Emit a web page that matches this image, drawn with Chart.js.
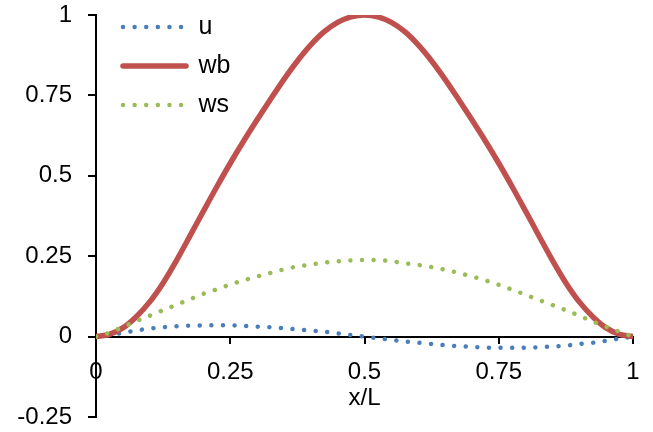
<!DOCTYPE html>
<html><head><meta charset="utf-8">
<script src="https://cdn.jsdelivr.net/npm/chart.js@4/dist/chart.umd.min.js"></script>
<style>html,body{margin:0;padding:0;background:#fff}#wrap{position:relative;width:653px;height:432px}</style>
</head><body><div id="wrap"><canvas id="c"></canvas></div>
<script>
const seriesNames = ['u', 'wb', 'ws'];
const xValues = [0,0.025,0.05,0.075,0.1,0.125,0.15,0.175,0.2,0.225,0.25,0.275,0.3,0.325,0.35,0.375,0.4,0.425,0.45,0.475,0.5,
  0.525,0.55,0.575,0.6,0.625,0.65,0.675,0.7,0.725,0.75,0.775,0.8,0.825,0.85,0.875,0.9,0.925,0.95,0.975,1];
const uValues = [0,0.004,0.012,0.019,0.025,0.029,0.032,0.034,0.035,0.035,0.035,0.033,0.031,0.029,0.026,0.022,0.019,0.015,0.010,0.005,0,
  -0.005,-0.010,-0.015,-0.019,-0.023,-0.027,-0.030,-0.032,-0.034,-0.035,-0.035,-0.035,-0.033,-0.031,-0.028,-0.023,-0.019,-0.013,-0.006,0];
const wbValues = [0,0.007,0.027,0.062,0.108,0.167,0.237,0.313,0.390,0.466,0.539,0.608,0.674,0.738,0.800,0.857,0.907,0.948,0.977,0.994,1,
  0.994,0.977,0.948,0.907,0.857,0.800,0.738,0.674,0.608,0.539,0.466,0.390,0.313,0.237,0.167,0.108,0.062,0.027,0.007,0];
const wsValues = [0,0.012,0.030,0.048,0.065,0.082,0.099,0.116,0.133,0.147,0.162,0.175,0.187,0.198,0.209,0.218,0.224,0.230,0.234,0.237,0.238,
  0.238,0.234,0.228,0.223,0.216,0.208,0.198,0.187,0.175,0.161,0.146,0.130,0.114,0.098,0.082,0.065,0.047,0.031,0.015,0];
const xTicks = [0, 0.25, 0.5, 0.75, 1];
const xTickLabels = ['0', '0.25', '0.5', '0.75', '1'];
const yTicks = [-0.25, 0, 0.25, 0.5, 0.75, 1];
const yTickLabels = ['-0.25', '0', '0.25', '0.5', '0.75', '1'];
const axisTitle = 'x/L';

const FONT = "'Liberation Sans', Arial, sans-serif";
const pts = (vals) => xValues.map((x, i) => ({x: x, y: vals[i]}));
const dotted = [0.01, 11.6];

const legendShift = {
  id: 'legendShift',
  afterLayout(chart) {
    const lg = chart.legend;
    if (!lg) return;
    const ca = chart.chartArea;
    lg.left = ca.left + 13;
    lg.top = ca.top - 14.5;
  }
};

new Chart(document.getElementById('c'), {
  type: 'line',
  data: {
    datasets: [
      {label: seriesNames[0], data: pts(uValues), borderColor: '#4A7EBB', backgroundColor: '#4A7EBB',
       borderWidth: 4.5, borderDash: dotted, borderCapStyle: 'round', pointRadius: 0, order: 3, cubicInterpolationMode: 'monotone'},
      {label: seriesNames[1], data: pts(wbValues), borderColor: '#C0504D', backgroundColor: '#C0504D',
       borderWidth: 5.5, borderCapStyle: 'round', pointRadius: 0, order: 2, cubicInterpolationMode: 'monotone'},
      {label: seriesNames[2], data: pts(wsValues), borderColor: '#9BBB59', backgroundColor: '#9BBB59',
       borderWidth: 4.5, borderDash: dotted, borderCapStyle: 'round', pointRadius: 0, order: 1, cubicInterpolationMode: 'monotone'}
    ]
  },
  options: {
    responsive: true,
    maintainAspectRatio: false,
    animation: false,
    devicePixelRatio: 1,
    layout: {autoPadding: false, padding: {left: 0, top: 15, right: 20, bottom: 15}},
    plugins: {
      tooltip: {enabled: false},
      legend: {
        position: 'chartArea',
        align: 'start',
        labels: {
          usePointStyle: true,
          pointStyle: 'line',
          pointStyleWidth: 63,
          padding: 14,
          color: '#000',
          font: {family: FONT, size: 25},
          sort: (a, b) => a.datasetIndex - b.datasetIndex,
          generateLabels: (chart) => Chart.defaults.plugins.legend.labels.generateLabels(chart).map(l => {
            const ds = chart.data.datasets[l.datasetIndex];
            l.lineDash = ds.borderDash || [];
            l.lineCap = ds.borderCapStyle;
            l.lineWidth = ds.borderWidth;
            return l;
          })
        }
      }
    },
    scales: {
      x: {
        type: 'linear', min: 0, max: 1,
        position: {y: 0},
        afterBuildTicks: (s) => { s.ticks = xTicks.map(v => ({value: v})); },
        afterFit: (s) => { s.paddingLeft = 0; s.paddingRight = 0; },
        ticks: {callback: (v, i) => xTickLabels[i], color: '#000', font: {family: FONT, size: 24, lineHeight: 1},
                padding: 17.5, maxRotation: 0, autoSkip: false},
        grid: {drawOnChartArea: false, drawTicks: true, tickLength: 6, color: '#000', lineWidth: 2},
        border: {display: true, color: '#000', width: 2},
        title: {display: true, text: axisTitle, color: '#000', font: {family: FONT, size: 24, lineHeight: 1},
                padding: {top: -15.5, bottom: 0}}
      },
      y: {
        type: 'linear', min: -0.25, max: 1,
        afterBuildTicks: (s) => { s.ticks = yTicks.map(v => ({value: v})); },
        afterFit: (s) => { s.width = 96; s.paddingTop = 0; s.paddingBottom = 0; },
        ticks: {callback: (v, i) => yTickLabels[i], color: '#000', font: {family: FONT, size: 24}, padding: 16, autoSkip: false},
        grid: {drawOnChartArea: false, drawTicks: true, tickLength: 8, color: '#000', lineWidth: 2},
        border: {display: true, color: '#000', width: 2}
      }
    }
  },
  plugins: [legendShift]
});
</script>
</body></html>
